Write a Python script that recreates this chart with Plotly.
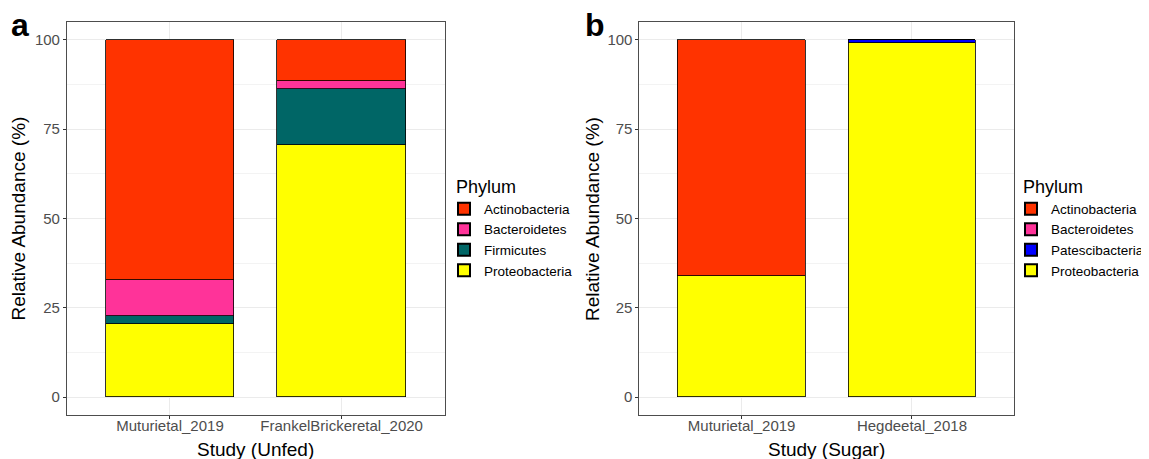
import plotly.graph_objects as go

# ---- data ----
studies_a = ["Muturietal_2019", "FrankelBrickeretal_2020"]
phyla_a = ["Actinobacteria", "Bacteroidetes", "Firmicutes", "Proteobacteria"]
values_a = {
    "Actinobacteria": [67.1, 11.4],
    "Bacteroidetes": [10.2, 2.4],
    "Firmicutes": [2.1, 15.7],
    "Proteobacteria": [20.6, 70.5],
}

studies_b = ["Muturietal_2019", "Hegdeetal_2018"]
phyla_b = ["Actinobacteria", "Bacteroidetes", "Patescibacteria", "Proteobacteria"]
values_b = {
    "Actinobacteria": [66.0, 0.0],
    "Bacteroidetes": [0.0, 0.1],
    "Patescibacteria": [0.0, 0.7],
    "Proteobacteria": [34.0, 99.2],
}

colors = {
    "Actinobacteria": "#FF3300",
    "Bacteroidetes": "#FF3399",
    "Firmicutes": "#006666",
    "Patescibacteria": "#0000FF",
    "Proteobacteria": "#FFFF00",
}

yticks = [0, 25, 50, 75, 100]

FONT = "Liberation Sans, Arial, Helvetica, sans-serif"

fig = go.Figure()

# bottom of stack first (ggplot puts first level on top)
for ph in reversed(phyla_a):
    fig.add_trace(go.Bar(
        x=studies_a, y=values_a[ph], name=ph, xaxis="x", yaxis="y",
        marker=dict(color=colors[ph], line=dict(color="black", width=0.8)),
        width=0.75, legend="legend",
    ))
for ph in reversed(phyla_b):
    fig.add_trace(go.Bar(
        x=studies_b, y=values_b[ph], name=ph, xaxis="x2", yaxis="y2",
        marker=dict(color=colors[ph], line=dict(color="black", width=0.8)),
        width=0.75, legend="legend2",
    ))

# page body has an 8px margin; figure is shrunk and positions offset by it
OFF = 8
W, H = 1149 - OFF, 459 - OFF


def px(x):
    return (x - OFF) / W


def py(y):
    return 1 - (y - OFF) / H


ydom = [py(415), py(22)]
xdom_a = [px(67), px(445)]
xdom_b = [px(640), px(1015)]

axis_common = dict(
    showline=True, mirror=True, linecolor="#4d4d4d", linewidth=1,
    ticks="outside", ticklen=3, tickcolor="#333333",
    tickfont=dict(size=15, color="#4d4d4d", family=FONT),
    showgrid=True, gridcolor="#ebebeb", gridwidth=1, zeroline=False,
)

xaxis_common = dict(axis_common, range=[-0.6, 1.6], type="category",
                    ticklabelstandoff=-6)

yaxis_common = dict(
    axis_common, range=[-5, 105], tickvals=yticks,
    minor=dict(tickvals=[12.5, 37.5, 62.5, 87.5], showgrid=True,
               gridcolor="#f3f3f3", gridwidth=0.6, ticks=""),
)

legend_common = dict(
    xanchor="left", yanchor="top",
    title=dict(text="&nbsp;&nbsp;Phylum", font=dict(size=18)),
    font=dict(size=13.5), traceorder="reversed",
    tracegroupgap=0, itemsizing="constant", bgcolor="rgba(0,0,0,0)",
)

fig.update_layout(
    width=W, height=H,
    margin=dict(l=0, r=0, t=0, b=0),
    paper_bgcolor="white", plot_bgcolor="white",
    barmode="stack", bargap=0,
    font=dict(family=FONT, color="black"),
    xaxis=dict(xaxis_common, domain=xdom_a, anchor="y"),
    yaxis=dict(yaxis_common, domain=ydom, anchor="x"),
    xaxis2=dict(xaxis_common, domain=xdom_b, anchor="y2"),
    yaxis2=dict(yaxis_common, domain=ydom, anchor="x2"),
    legend=dict(legend_common, x=px(444), y=py(170)),
    legend2=dict(legend_common, x=px(1012), y=py(170)),
    showlegend=True,
)

annotations = [
    dict(text="<b>a</b>", x=px(20), y=py(25), xref="paper", yref="paper",
         showarrow=False, font=dict(size=32, family=FONT), xanchor="center", yanchor="middle"),
    dict(text="<b>b</b>", x=px(596), y=py(25), xref="paper", yref="paper",
         showarrow=False, font=dict(size=32, family=FONT), xanchor="center", yanchor="middle"),
    dict(text="Study (Unfed)", x=(xdom_a[0] + xdom_a[1]) / 2, y=py(449),
         xref="paper", yref="paper", showarrow=False, font=dict(size=19),
         xanchor="center", yanchor="middle"),
    dict(text="Study (Sugar)", x=(xdom_b[0] + xdom_b[1]) / 2, y=py(449),
         xref="paper", yref="paper", showarrow=False, font=dict(size=19),
         xanchor="center", yanchor="middle"),
    dict(text="Relative Abundance (%)", x=px(19), y=(ydom[0] + ydom[1]) / 2,
         xref="paper", yref="paper", showarrow=False, font=dict(size=19),
         textangle=-90, xanchor="center", yanchor="middle"),
    dict(text="Relative Abundance (%)", x=px(593), y=(ydom[0] + ydom[1]) / 2,
         xref="paper", yref="paper", showarrow=False, font=dict(size=19),
         textangle=-90, xanchor="center", yanchor="middle"),
]
fig.update_layout(annotations=annotations)

fig.write_html("out.html")
